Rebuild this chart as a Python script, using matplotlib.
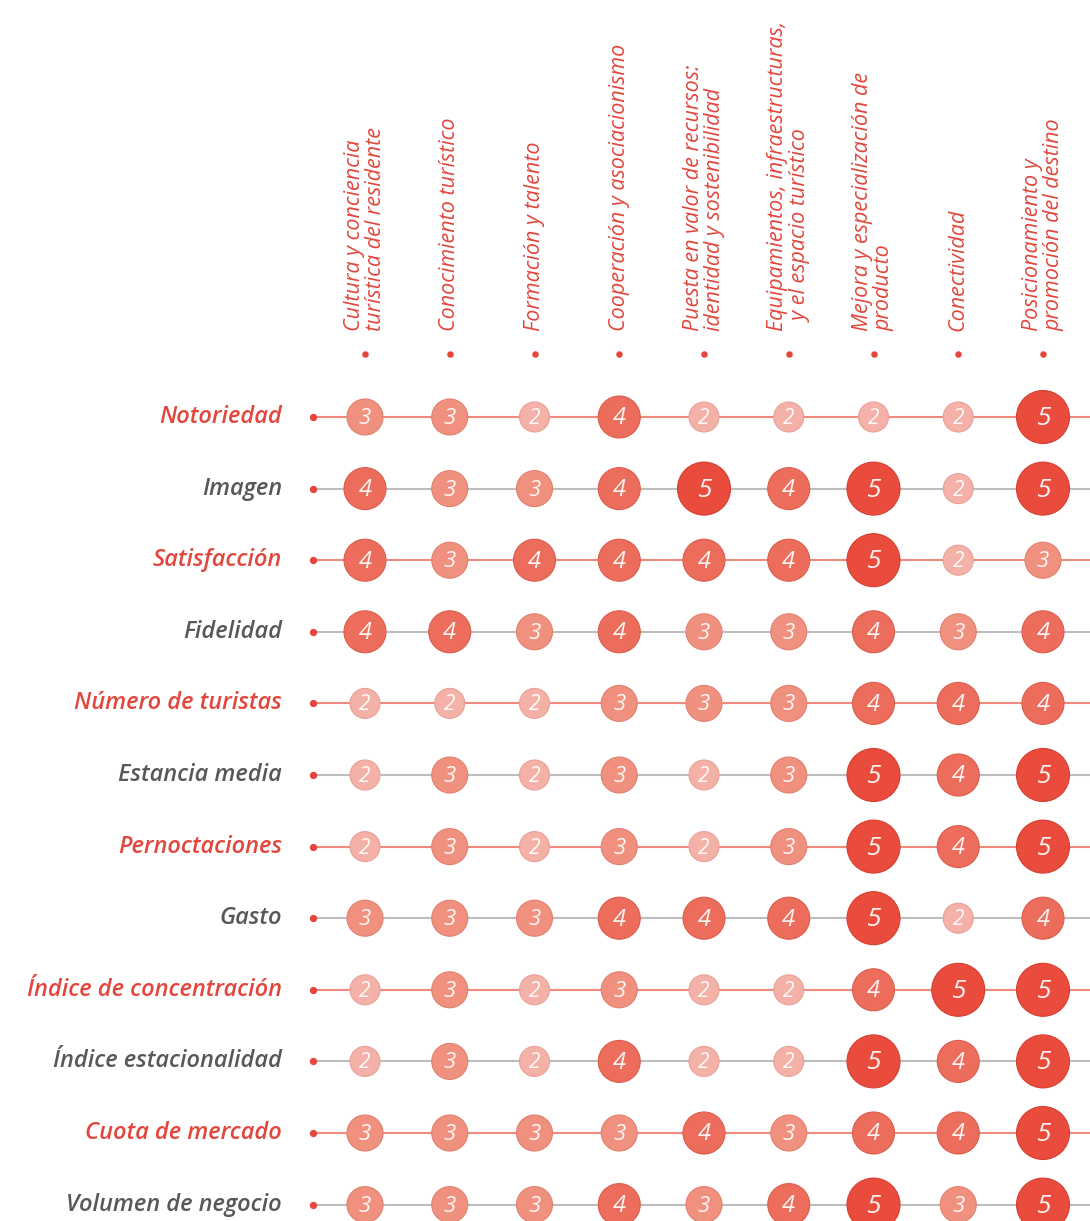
import matplotlib.pyplot as plt
import numpy as np

# columnas (factores) y filas (indicadores)
columnas = [
    "Cultura y conciencia\nturística del residente",
    "Conocimiento turístico",
    "Formación y talento",
    "Cooperación y asociacionismo",
    "Puesta en valor de recursos:\nidentidad y sostenibilidad",
    "Equipamientos, infraestructuras,\n  y el espacio turístico",
    "Mejora y especialización de\nproducto",
    "Conectividad",
    "Posicionamiento y\npromoción del destino",
]
filas = [
    "Notoriedad", "Imagen", "Satisfacción", "Fidelidad", "Número de turistas",
    "Estancia media", "Pernoctaciones", "Gasto", "Índice de concentración",
    "Índice estacionalidad", "Cuota de mercado", "Volumen de negocio",
]
valores = [
    [3, 3, 2, 4, 2, 2, 2, 2, 5],
    [4, 3, 3, 4, 5, 4, 5, 2, 5],
    [4, 3, 4, 4, 4, 4, 5, 2, 3],
    [4, 4, 3, 4, 3, 3, 4, 3, 4],
    [2, 2, 2, 3, 3, 3, 4, 4, 4],
    [2, 3, 2, 3, 2, 3, 5, 4, 5],
    [2, 3, 2, 3, 2, 3, 5, 4, 5],
    [3, 3, 3, 4, 4, 4, 5, 2, 4],
    [2, 3, 2, 3, 2, 2, 4, 5, 5],
    [2, 3, 2, 4, 2, 2, 5, 4, 5],
    [3, 3, 3, 3, 4, 3, 4, 4, 5],
    [3, 3, 3, 4, 3, 4, 5, 3, 5],
]

# estilo por valor
diam_px = {2: 30, 3: 36, 4: 42, 5: 53}
color_val = {2: "#f4b1a7", 3: "#f0917f", 4: "#ed6d5c", 5: "#e94b3c"}
borde_val = {2: "#eaa097", 3: "#e27f6e", 4: "#dc5c4c", 5: "#d63f31"}
num_size = {2: 15, 3: 16, 4: 17, 5: 19}

rojo = "#e2463c"
gris = "#585858"
linea_roja = "#f08a7c"
linea_gris = "#bdbdbd"

W, H = 1090, 1221
x0, dx = 365, 84.75
y0, dy = 417, 71.6

fig = plt.figure(figsize=(W / 100, H / 100), dpi=100)
ax = fig.add_axes([0, 0, 1, 1])
ax.set_xlim(-x0 / dx, (W - x0) / dx)
ax.set_ylim((H - y0) / dy, -y0 / dy)
ax.axis("off")

dot_x = (313 - x0) / dx
lab_x = (282 - x0) / dx
head_dot_y = (354 - y0) / dy
head_txt_y = (331 - y0) / dy

v = np.array(valores)
n_filas, n_cols = v.shape

for r, nombre in enumerate(filas):
    es_rojo = r % 2 == 0
    ax.plot([dot_x, ax.get_xlim()[1]], [r, r], color=linea_roja if es_rojo else linea_gris,
            lw=1.5, zorder=1)
    ax.scatter([dot_x], [r], s=28, color=rojo, zorder=2, lw=0)
    ax.text(lab_x, r, nombre, ha="right", va="center", fontsize=17,
            family="Open Sans", style="italic", weight="semibold",
            color=rojo if es_rojo else gris)

cols, rows = np.meshgrid(np.arange(n_cols), np.arange(n_filas))
vals = v.ravel()
ax.scatter(cols.ravel(), rows.ravel(),
           s=[(diam_px[k] * 0.72) ** 2 for k in vals],
           c=[color_val[k] for k in vals],
           edgecolors=[borde_val[k] for k in vals], linewidths=0.8, zorder=3)
for c, r, k in zip(cols.ravel(), rows.ravel(), vals):
    ax.text(c, r + 0.02, str(k), ha="center", va="center", fontsize=num_size[k],
            family="Open Sans", style="italic", color="white", alpha=0.92, zorder=4)

for c, nombre in enumerate(columnas):
    ax.scatter([c], [head_dot_y], s=22, color=rojo, lw=0, zorder=2)
    ax.text(c, head_txt_y, nombre, rotation=90, ha="center", va="bottom",
            fontsize=15.5, family="Open Sans", style="italic", color=rojo,
            linespacing=1.05, multialignment="left")

fig.savefig("out.png", dpi=100, facecolor="white")
